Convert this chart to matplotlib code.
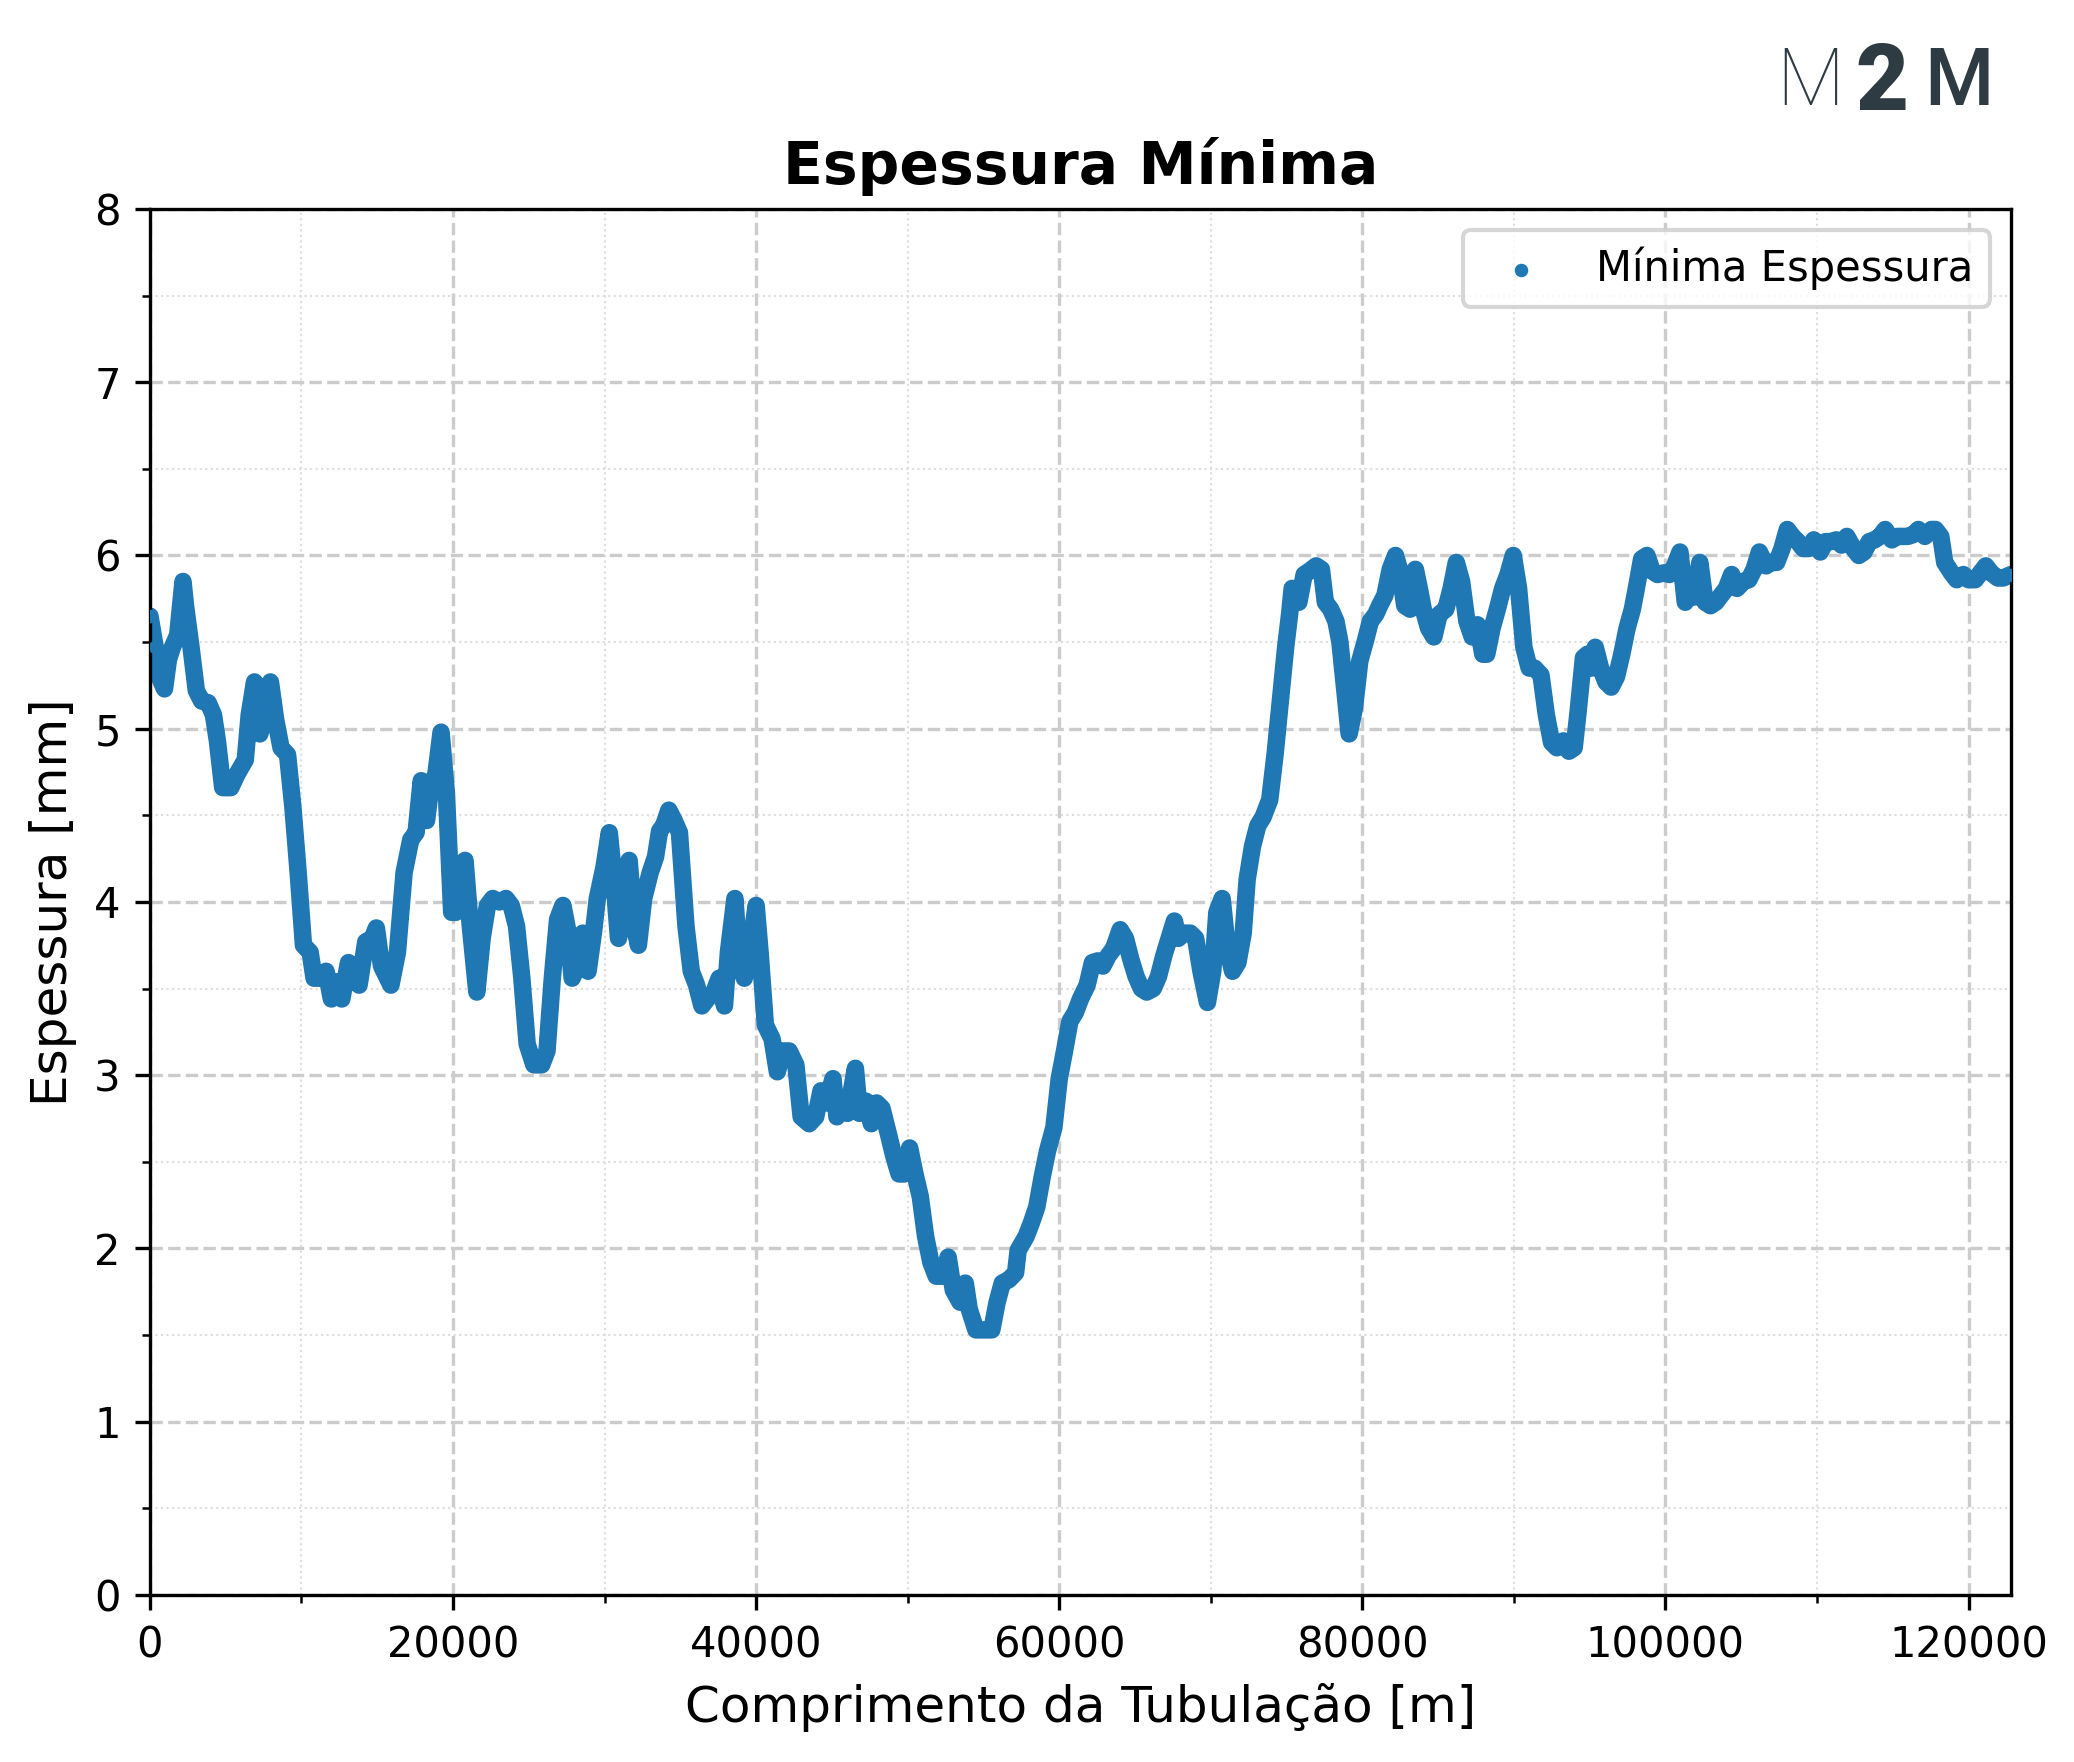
import numpy as np
import matplotlib
matplotlib.use("Agg")
import matplotlib.pyplot as plt
from matplotlib.ticker import MultipleLocator

# distancia ao longo da tubulacao [km] e espessura minima [mm]
dist_km = [
    0.0, 0.35, 0.61, 0.96, 1.22, 1.48, 1.83, 2.18, 2.36, 2.71, 3.06, 3.41, 3.84, 4.19, 4.45, 4.80,
    5.33, 5.76, 6.29, 6.55, 6.90, 7.25, 7.60, 7.95, 8.30, 8.65, 9.08, 9.43, 9.78, 10.13, 10.57, 10.83,
    11.27, 11.62, 11.97, 12.40, 12.66, 13.10, 13.45, 13.80, 14.24, 14.67, 14.94, 15.28, 15.90, 16.33,
    16.77, 17.21, 17.56, 17.90, 18.25, 18.52, 18.87, 19.21, 19.56, 19.91, 20.18, 20.44, 20.79, 21.14,
    21.57, 21.92, 22.27, 22.62, 23.06, 23.49, 23.84, 24.19, 24.54, 24.89, 25.33, 25.85, 26.20, 26.55,
    26.90, 27.25, 27.60, 27.86, 28.21, 28.56, 28.91, 29.26, 29.52, 29.96, 30.31, 30.57, 30.92, 31.27,
    31.62, 31.97, 32.23, 32.58, 33.01, 33.36, 33.63, 33.89, 34.24, 34.59, 34.94, 35.37, 35.72, 36.07,
    36.42, 36.77, 37.21, 37.56, 37.91, 38.17, 38.60, 38.87, 39.22, 39.65, 40.00, 40.26, 40.61, 41.05,
    41.40, 41.75, 42.18, 42.62, 42.97, 43.50, 43.93, 44.28, 44.63, 45.07, 45.33, 45.68, 46.03, 46.55,
    46.81, 47.25, 47.60, 47.95, 48.30, 48.73, 49.09, 49.43, 49.78, 50.13, 50.48, 50.83, 51.18, 51.53,
    51.88, 52.32, 52.67, 53.01, 53.45, 53.80, 54.06, 54.50, 54.85, 55.20, 55.55, 55.90, 56.24, 56.68,
    57.12, 57.29, 57.82, 58.17, 58.52, 58.87, 59.22, 59.65, 60.00, 60.35, 60.70, 61.05, 61.40, 61.84,
    62.19, 62.54, 62.88, 63.23, 63.58, 64.02, 64.37, 64.72, 65.07, 65.42, 65.77, 66.20, 66.55, 66.90,
    67.25, 67.60, 67.86, 68.21, 68.65, 69.00, 69.35, 69.78, 70.13, 70.40, 70.75, 71.09, 71.44, 71.79,
    72.14, 72.40, 72.75, 73.10, 73.45, 73.89, 74.24, 74.59, 74.94, 75.20, 75.37, 75.81, 76.16, 76.51,
    76.95, 77.30, 77.56, 77.91, 78.26, 78.52, 78.87, 79.13, 79.48, 79.83, 80.18, 80.53, 80.88, 81.14,
    81.49, 81.84, 82.19, 82.45, 82.80, 83.15, 83.50, 83.76, 84.02, 84.37, 84.72, 85.07, 85.51, 85.86,
    86.20, 86.55, 86.90, 87.25, 87.60, 87.95, 88.21, 88.56, 88.91, 89.26, 89.61, 89.96, 90.31, 90.66,
    91.01, 91.36, 91.79, 92.14, 92.49, 92.84, 93.28, 93.63, 93.98, 94.24, 94.59, 94.85, 95.11, 95.37,
    95.72, 96.07, 96.42, 96.77, 97.12, 97.47, 97.82, 98.08, 98.43, 98.78, 99.13, 99.48, 99.91, 100.26,
    100.61, 100.96, 101.31, 101.66, 101.92, 102.27, 102.62, 102.97, 103.32, 103.67, 104.02, 104.37,
    104.72, 105.15, 105.50, 105.85, 106.20, 106.64, 106.99, 107.34, 107.69, 108.04, 108.39, 108.74,
    109.09, 109.44, 109.79, 110.22, 110.57, 110.92, 111.27, 111.62, 111.97, 112.41, 112.76, 113.10,
    113.45, 113.80, 114.15, 114.50, 114.94, 115.29, 115.64, 115.99, 116.34, 116.69, 117.12, 117.56,
    117.82, 118.17, 118.43, 118.87, 119.22, 119.66, 120.00, 120.44, 120.79, 121.14, 121.49, 121.93,
    122.28, 122.80,
]
espessura = [
    5.65, 5.47, 5.30, 5.23, 5.40, 5.47, 5.54, 5.85, 5.70, 5.47, 5.22, 5.16, 5.15, 5.08, 4.93, 4.66,
    4.66, 4.74, 4.82, 5.08, 5.27, 4.97, 5.08, 5.27, 5.05, 4.89, 4.85, 4.55, 4.17, 3.75, 3.71, 3.56,
    3.56, 3.60, 3.44, 3.54, 3.44, 3.65, 3.57, 3.52, 3.77, 3.79, 3.85, 3.63, 3.52, 3.71,
    4.17, 4.36, 4.40, 4.70, 4.47, 4.66, 4.74, 4.98, 4.63, 3.94, 3.94, 4.17, 4.24, 3.86,
    3.48, 3.79, 3.98, 4.02, 4.00, 4.02, 3.98, 3.86, 3.56, 3.18, 3.06, 3.06, 3.14, 3.56,
    3.90, 3.98, 3.82, 3.56, 3.63, 3.82, 3.60, 3.82, 4.02, 4.20, 4.40, 4.17, 3.79, 4.02,
    4.24, 3.86, 3.75, 4.02, 4.17, 4.26, 4.41, 4.44, 4.53, 4.47, 4.40, 3.86, 3.60, 3.52,
    3.40, 3.44, 3.48, 3.56, 3.40, 3.71, 4.02, 3.67, 3.56, 3.75, 3.98, 3.71, 3.29, 3.21,
    3.02, 3.14, 3.14, 3.06, 2.76, 2.72, 2.76, 2.91, 2.84, 2.98, 2.76, 2.81, 2.78, 3.04,
    2.78, 2.85, 2.72, 2.84, 2.81, 2.66, 2.53, 2.43, 2.43, 2.58, 2.43, 2.30, 2.07, 1.92,
    1.84, 1.84, 1.95, 1.76, 1.69, 1.80, 1.65, 1.53, 1.53, 1.53, 1.53, 1.69, 1.80, 1.82,
    1.86, 1.99, 2.07, 2.15, 2.24, 2.41, 2.56, 2.70, 2.98, 3.14, 3.31, 3.36, 3.44, 3.52,
    3.65, 3.66, 3.63, 3.69, 3.73, 3.84, 3.79, 3.67, 3.57, 3.50, 3.48, 3.50, 3.57, 3.69,
    3.79, 3.89, 3.79, 3.82, 3.82, 3.79, 3.60, 3.42, 3.60, 3.94, 4.02, 3.73, 3.60, 3.65,
    3.82, 4.13, 4.32, 4.44, 4.49, 4.59, 4.85, 5.16, 5.47, 5.66, 5.81, 5.73, 5.89, 5.91,
    5.94, 5.92, 5.73, 5.69, 5.62, 5.50, 5.20, 4.97, 5.12, 5.39, 5.50, 5.62, 5.66, 5.71,
    5.77, 5.92, 6.00, 5.92, 5.71, 5.69, 5.92, 5.81, 5.69, 5.58, 5.53, 5.66, 5.69, 5.81,
    5.96, 5.85, 5.62, 5.53, 5.60, 5.43, 5.43, 5.58, 5.69, 5.81, 5.89, 6.00, 5.81, 5.47,
    5.35, 5.35, 5.31, 5.08, 4.92, 4.89, 4.93, 4.87, 4.89, 5.10, 5.41, 5.43, 5.35, 5.47,
    5.35, 5.27, 5.24, 5.30, 5.43, 5.58, 5.69, 5.81, 5.98, 6.00, 5.91, 5.89, 5.90, 5.89,
    5.94, 6.02, 5.73, 5.85, 5.76, 5.96, 5.73, 5.71, 5.73, 5.77, 5.81, 5.89,
    5.81, 5.85, 5.86, 5.92, 6.02, 5.94, 5.96, 5.96, 6.04, 6.15, 6.11, 6.08,
    6.04, 6.04, 6.09, 6.02, 6.08, 6.08, 6.09, 6.06, 6.11, 6.04, 6.00, 6.02,
    6.08, 6.09, 6.11, 6.15, 6.09, 6.11, 6.11, 6.11, 6.12, 6.15, 6.11, 6.15,
    6.15, 6.11, 5.96, 5.90, 5.86, 5.89, 5.86, 5.86, 5.90, 5.94, 5.90, 5.87,
    5.87, 5.89,
]

x = np.array(dist_km) * 1000
y = np.array(espessura)

fig = plt.figure(figsize=(2074 / 300, 1762 / 300), dpi=300)
ax = fig.add_axes([0.0723, 0.0948, 0.8973, 0.7866])

cor = '#1f77b4'
ax.plot(x, y, color=cor, lw=4.2, solid_joinstyle='round', solid_capstyle='round', zorder=2)
ax.scatter(x, y, s=5, color=cor, label='Mínima Espessura', zorder=3)

ax.set_xlim(0, 122800)
ax.set_ylim(0, 8)
ax.xaxis.set_major_locator(MultipleLocator(20000))
ax.xaxis.set_minor_locator(MultipleLocator(10000))
ax.yaxis.set_major_locator(MultipleLocator(1))
ax.yaxis.set_minor_locator(MultipleLocator(0.5))
ax.tick_params(labelsize=10)

ax.grid(which='major', linestyle='--', color='#cccccc', lw=0.8)
ax.grid(which='minor', linestyle=':', color='#dddddd', lw=0.5)
ax.set_axisbelow(True)

ax.set_title('Espessura Mínima', fontsize=14, fontweight='bold')
ax.set_xlabel('Comprimento da Tubulação [m]', fontsize=12)
ax.set_ylabel('Espessura [mm]', fontsize=12)
ax.legend(loc='upper right', fontsize=10)

# logo M2M
logo = '#2f3b42'
fig.text(0.873, 0.953, 'M', fontsize=19, family='Roboto', weight='light', color=logo, ha='center', va='center')
fig.text(0.9075, 0.952, '2', fontsize=22, family='Roboto', weight='black', color=logo, ha='center', va='center')
fig.text(0.9445, 0.953, 'M', fontsize=19, family='Roboto', weight='medium', color=logo, ha='center', va='center')

fig.savefig('out.png', dpi=300)
